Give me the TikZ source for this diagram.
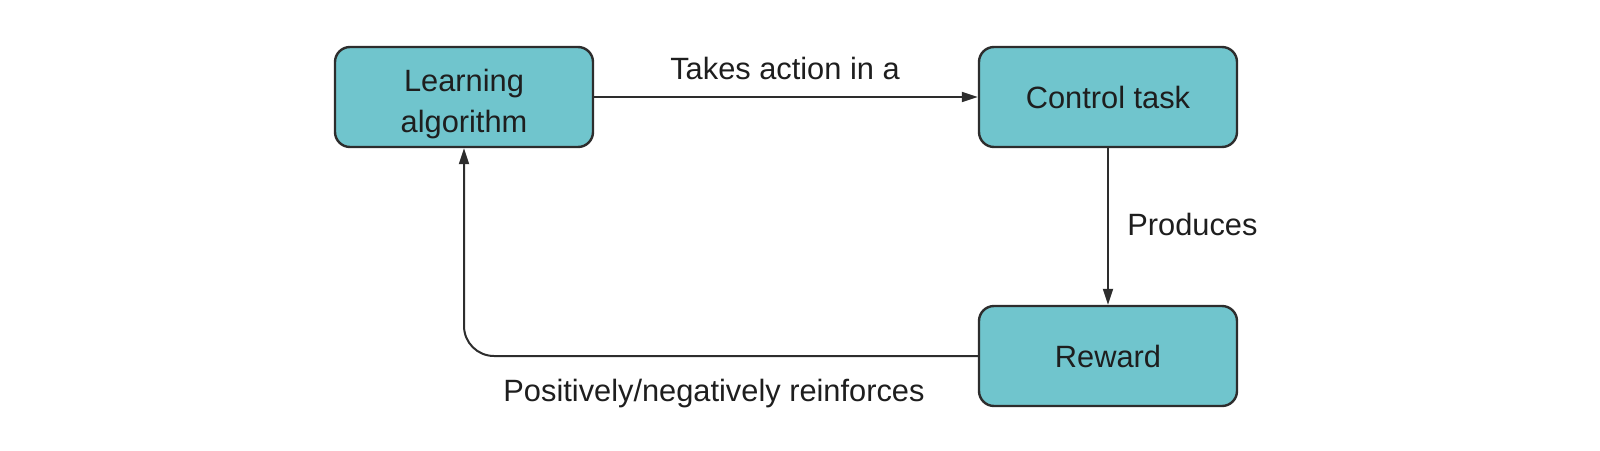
\documentclass[tikz,border=0pt]{standalone}
\usepackage{fontspec}
\setmainfont{Liberation Sans}
\usetikzlibrary{arrows.meta}
\definecolor{boxfill}{RGB}{112,197,205}
\definecolor{boxline}{RGB}{45,45,45}
\definecolor{txt}{RGB}{30,30,30}
\tikzset{
  stepbox/.style={draw=boxline, line width=1.2pt, fill=boxfill, rounded corners=7.5pt,
    minimum width=129pt, minimum height=50pt, inner sep=0pt, align=center,
    text=txt, font=\fontsize{15.4pt}{20.5pt}\selectfont},
  lbl/.style={text=txt, font=\fontsize{15.4pt}{20pt}\selectfont, inner sep=0pt},
  conn/.style={draw=boxline, line width=1pt, -{Triangle[length=8pt,width=5pt]}}
}
\begin{document}
\begin{tikzpicture}[x=0.5pt,y=-0.5pt]
\useasboundingbox (0,0) rectangle (1600,450);
\node[stepbox] (learn) at (464,97) {\raisebox{-6.8pt}[0pt][0pt]{\begin{tabular}{@{}c@{}}Learning\\algorithm\end{tabular}}};
\node[stepbox] (ctrl) at (1108,97) {Control task};
\node[stepbox] (rew) at (1108,356) {Reward};
\draw[conn] (learn.east) -- (ctrl.west);
\draw[conn] (ctrl.south) -- (rew.north);
\draw[conn, rounded corners=15pt] (rew.west) -| (learn.south);
\node[lbl] (ltake) at (785,68) {Takes action in a};
\node[lbl, anchor=west] (lprod) at (1127,224) {Produces};
\node[lbl] (lpos) at (714,394) {Positively/negatively reinforces};
\end{tikzpicture}
\end{document}
